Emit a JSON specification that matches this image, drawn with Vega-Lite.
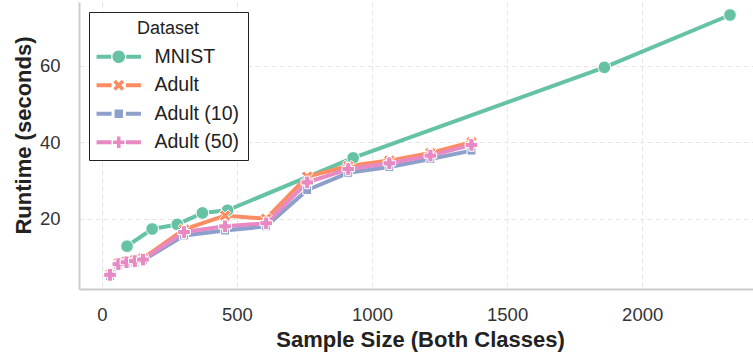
{
  "$schema": "https://vega.github.io/schema/vega-lite/v6.json",
  "width": 682,
  "height": 287,
  "autosize": {"type": "none"},
  "padding": {"left": 79, "top": 2, "right": 0, "bottom": 66},
  "background": "white",
  "config": {
    "view": {"stroke": null},
    "font": "Liberation Sans",
    "axis": {
      "ticks": false,
      "domainColor": "#cccccc",
      "domainWidth": 2,
      "gridColor": "#e6e6e6",
      "gridDash": [5, 3],
      "gridWidth": 1,
      "labelFontSize": 18.5,
      "labelColor": "#333333",
      "titleFontSize": 22,
      "titleFontWeight": "bold",
      "titleColor": "#222222"
    },
    "legend": {
      "orient": "none",
      "legendX": 10,
      "legendY": 10,
      "titleAnchor": "middle",
      "strokeColor": "#222222",
      "fillColor": "white",
      "padding": 8,
      "symbolSize": 144,
      "symbolOffset": 12,
      "labelOffset": 26,
      "rowPadding": 7.5,
      "titlePadding": 9,
      "symbolOpacity": 1,
      "symbolStrokeColor": "white",
      "symbolStrokeWidth": 0.8,
      "labelFontSize": 19.5,
      "labelColor": "#222222",
      "titleFontSize": 18,
      "titleFontWeight": "normal",
      "titleColor": "#222222"
    }
  },
  "data": {
    "values": [
      {"dataset": "MNIST", "n": 93, "t": 12.8},
      {"dataset": "MNIST", "n": 186, "t": 17.3},
      {"dataset": "MNIST", "n": 279, "t": 18.5},
      {"dataset": "MNIST", "n": 372, "t": 21.5},
      {"dataset": "MNIST", "n": 465, "t": 22.2},
      {"dataset": "MNIST", "n": 930, "t": 35.9},
      {"dataset": "MNIST", "n": 1860, "t": 59.6},
      {"dataset": "MNIST", "n": 2325, "t": 73.3},
      {"dataset": "Adult", "n": 30, "t": 5.3},
      {"dataset": "Adult", "n": 61, "t": 8.3},
      {"dataset": "Adult", "n": 91, "t": 8.8},
      {"dataset": "Adult", "n": 122, "t": 9.1},
      {"dataset": "Adult", "n": 152, "t": 9.6},
      {"dataset": "Adult", "n": 304, "t": 17.2},
      {"dataset": "Adult", "n": 456, "t": 20.8},
      {"dataset": "Adult", "n": 608, "t": 20.0},
      {"dataset": "Adult", "n": 760, "t": 31.0},
      {"dataset": "Adult", "n": 912, "t": 33.8},
      {"dataset": "Adult", "n": 1064, "t": 35.2},
      {"dataset": "Adult", "n": 1216, "t": 37.2},
      {"dataset": "Adult", "n": 1368, "t": 40.0},
      {"dataset": "Adult (10)", "n": 30, "t": 5.0},
      {"dataset": "Adult (10)", "n": 61, "t": 7.9},
      {"dataset": "Adult (10)", "n": 91, "t": 8.3},
      {"dataset": "Adult (10)", "n": 122, "t": 8.6},
      {"dataset": "Adult (10)", "n": 152, "t": 9.1},
      {"dataset": "Adult (10)", "n": 304, "t": 15.6},
      {"dataset": "Adult (10)", "n": 456, "t": 16.9},
      {"dataset": "Adult (10)", "n": 608, "t": 18.0},
      {"dataset": "Adult (10)", "n": 760, "t": 27.5},
      {"dataset": "Adult (10)", "n": 912, "t": 32.0},
      {"dataset": "Adult (10)", "n": 1064, "t": 33.5},
      {"dataset": "Adult (10)", "n": 1216, "t": 35.6},
      {"dataset": "Adult (10)", "n": 1368, "t": 37.8},
      {"dataset": "Adult (50)", "n": 30, "t": 5.3},
      {"dataset": "Adult (50)", "n": 61, "t": 8.1},
      {"dataset": "Adult (50)", "n": 91, "t": 8.6},
      {"dataset": "Adult (50)", "n": 122, "t": 8.9},
      {"dataset": "Adult (50)", "n": 152, "t": 9.3},
      {"dataset": "Adult (50)", "n": 304, "t": 16.5},
      {"dataset": "Adult (50)", "n": 456, "t": 18.0},
      {"dataset": "Adult (50)", "n": 608, "t": 18.8},
      {"dataset": "Adult (50)", "n": 760, "t": 29.5},
      {"dataset": "Adult (50)", "n": 912, "t": 33.0},
      {"dataset": "Adult (50)", "n": 1064, "t": 34.5},
      {"dataset": "Adult (50)", "n": 1216, "t": 36.5},
      {"dataset": "Adult (50)", "n": 1368, "t": 39.3}
    ]
  },
  "encoding": {
    "x": {
      "field": "n", "type": "quantitative",
      "scale": {"domain": [-84.75, 2439.75], "nice": false, "zero": false},
      "axis": {"values": [0, 500, 1000, 1500, 2000], "format": "d", "title": "Sample Size (Both Classes)", "labelPadding": 16, "titlePadding": 6}
    },
    "y": {
      "field": "t", "type": "quantitative",
      "scale": {"domain": [1.6, 76.7], "nice": false, "zero": false},
      "axis": {"values": [20, 40, 60], "title": "Runtime (seconds)", "labelPadding": 19, "titlePadding": 4, "titleY": 133}
    }
  },
  "resolve": {"scale": {"shape": "independent", "color": "independent"}},
  "layer": [
    {
      "mark": {"type": "line", "strokeWidth": 4, "strokeJoin": "round"},
      "encoding": {
        "color": {
          "field": "dataset", "type": "nominal", "title": "Dataset",
          "scale": {"domain": ["MNIST", "Adult", "Adult (10)", "Adult (50)"], "range": ["#66c2a5", "#fc8d62", "#8da0cb", "#e78ac3"]},
          "legend": null
        }
      }
    },
    {
      "mark": {"type": "point", "filled": true, "opacity": 1, "stroke": "white", "strokeWidth": 1, "size": 160},
      "encoding": {
        "color": {
          "field": "dataset", "type": "nominal", "title": "Dataset",
          "scale": {"domain": ["MNIST", "Adult", "Adult (10)", "Adult (50)"], "range": ["#66c2a5", "#fc8d62", "#8da0cb", "#e78ac3"]},
          "legend": null
        },
        "shape": {
          "field": "dataset", "type": "nominal",
          "scale": {"domain": ["MNIST", "Adult", "Adult (10)", "Adult (50)"], "range": ["circle", "M0.495,-0.919L0.919,-0.495L0.424,0L0.919,0.495L0.495,0.919L0,0.424L-0.495,0.919L-0.919,0.495L-0.424,0L-0.919,-0.495L-0.495,-0.919L0,-0.424Z", "M-0.7,-0.7H0.7V0.7H-0.7Z", "cross"]},
          "legend": null
        },
        "stroke": {"value": "white"}
      }
    },
    {
      "mark": {"type": "point", "filled": true, "opacity": 0, "size": 144},
      "encoding": {
        "color": {
          "field": "dataset", "type": "nominal", "title": "Dataset",
          "scale": {"domain": ["MNIST", "Adult", "Adult (10)", "Adult (50)"], "range": ["#66c2a5", "#fc8d62", "#8da0cb", "#e78ac3"]}
        },
        "shape": {
          "field": "dataset", "type": "nominal", "title": "Dataset",
          "scale": {"domain": ["MNIST", "Adult", "Adult (10)", "Adult (50)"], "range": [
            "M-1.05,0A1.05,1.05 0 1,0 1.05,0A1.05,1.05 0 1,0 -1.05,0ZM-3.7,-0.33H-1.25V0.33H-3.7ZM1.25,-0.33H3.7V0.33H1.25Z",
            "M0.495,-0.919L0.919,-0.495L0.424,0L0.919,0.495L0.495,0.919L0,0.424L-0.495,0.919L-0.919,0.495L-0.424,0L-0.919,-0.495L-0.495,-0.919L0,-0.424ZM-3.7,-0.33H-1.2V0.33H-3.7ZM1.2,-0.33H3.7V0.33H1.2Z",
            "M-0.7,-0.7H0.7V0.7H-0.7ZM-3.7,-0.33H-1.2V0.33H-3.7ZM1.2,-0.33H3.7V0.33H1.2Z",
            "M-0.3,-0.95H0.3V-0.3H0.95V0.3H0.3V0.95H-0.3V0.3H-0.95V-0.3H-0.3ZM-3.7,-0.33H-1.2V0.33H-3.7ZM1.2,-0.33H3.7V0.33H1.2Z"
          ]}
        }
      }
    }
  ]
}
